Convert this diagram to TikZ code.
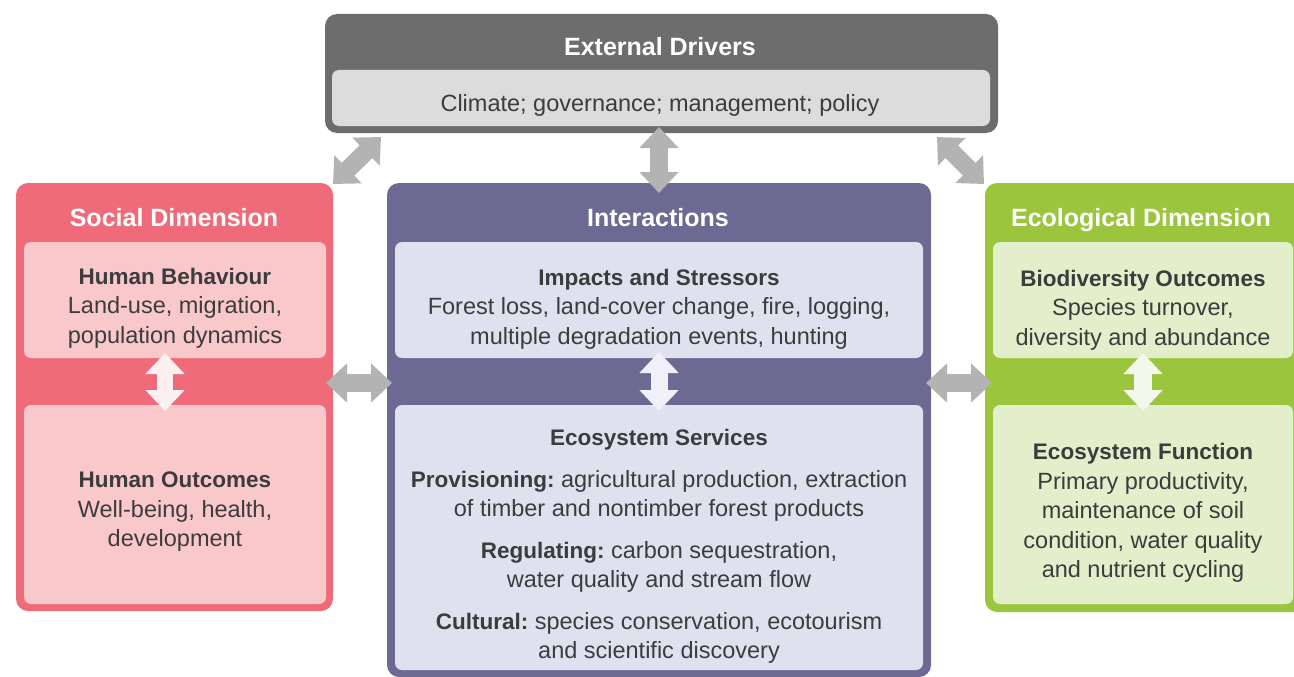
\documentclass[tikz,border=0pt]{standalone}
\usepackage{fontspec}
\setmainfont{Liberation Sans}
\usetikzlibrary{arrows.meta}
\frenchspacing
\definecolor{drvdark}{HTML}{6D6D6D}
\definecolor{drvlight}{HTML}{DCDCDC}
\definecolor{socdark}{HTML}{EF6B7A}
\definecolor{soclight}{HTML}{F9C8CB}
\definecolor{intdark}{HTML}{6C6A93}
\definecolor{intlight}{HTML}{DFE1EF}
\definecolor{ecodark}{HTML}{9BC53D}
\definecolor{ecolight}{HTML}{E3EECB}
\definecolor{arrgray}{HTML}{B3B3B3}
\definecolor{txt}{HTML}{3C3C3C}
\definecolor{socarr}{HTML}{FDF0F0}
\definecolor{intarr}{HTML}{F1F0F8}
\definecolor{ecoarr}{HTML}{F4F8EC}
\newcommand{\hb}[1]{{\fontsize{22.5}{29.5}\selectfont\bfseries #1}}
\tikzset{
  outerbox/.style={rounded corners=12pt},
  innerbox/.style={rounded corners=7pt},
  titletext/.style={text=white, font=\fontsize{25}{30}\selectfont\bfseries, inner sep=0pt, anchor=base},
  bodytext/.style={text=txt, font=\fontsize{23.5}{29.5}\selectfont\frenchspacing, align=center, inner sep=0pt},
  dblarrow/.style={line width=18pt, draw=#1,
    {Triangle[length=21pt,width=38pt]}-{Triangle[length=21pt,width=38pt]}},
}
\begin{document}
\begin{tikzpicture}[x=1pt,y=-1pt]
\useasboundingbox (0,0) rectangle (1294,677);
% External drivers
\fill[drvdark,outerbox] (325,14) rectangle (998,133);
\fill[drvlight,innerbox] (332,70) rectangle (990,126);
\node[titletext] (drvtitle) at (660,56) {External Drivers};
\node[bodytext] (drvtext) at (660,105) {Climate; governance; management; policy};
% Social
\fill[socdark,outerbox] (16,183) rectangle (333,611);
\fill[soclight,innerbox] (24,242) rectangle (326,358);
\fill[soclight,innerbox] (24,405) rectangle (326,604);
\node[titletext] (soctitle) at (174,226) {Social Dimension};
\node[bodytext] (soc1) at (175,308) {\hb{Human Behaviour}\\Land-use, migration,\\population dynamics};
\node[bodytext] (soc2) at (175,512) {\hb{Human Outcomes}\\Well-being, health,\\development};
% Interactions
\fill[intdark,outerbox] (387,183) rectangle (931,677);
\fill[intlight,innerbox] (395,242) rectangle (923,358);
\fill[intlight,innerbox] (395,405) rectangle (923,670);
\node[titletext] (inttitle) at (658,226) {Interactions};
\node[bodytext] (int1) at (659,309) {\hb{Impacts and Stressors}\\Forest loss, land-cover change, fire, logging,\\multiple degradation events, hunting};
\node[bodytext] (int2) at (659,546.5) {\hb{Ecosystem Services}\\[12pt]
\hb{Provisioning:} agricultural production, extraction\\of timber and nontimber forest products\\[12pt]
\hb{Regulating:} carbon sequestration,\\water quality and stream flow\\[12pt]
\hb{Cultural:} species conservation, ecotourism\\and scientific discovery};
% Ecological
\fill[ecodark,outerbox] (985,183) rectangle (1306,612);
\fill[ecolight,innerbox] (993,242) rectangle (1293,358);
\fill[ecolight,innerbox] (993,405) rectangle (1293,604);
\node[titletext] (ecotitle) at (1141,226) {Ecological Dimension};
\node[bodytext] (eco1) at (1143,310) {\hb{Biodiversity Outcomes}\\Species turnover,\\diversity and abundance};
\node[bodytext] (eco2) at (1143,513) {\hb{Ecosystem Function}\\Primary productivity,\\maintenance of soil\\condition, water quality\\and nutrient cycling};
% arrow end points
\coordinate (dl1) at (333,184); \coordinate (dl2) at (381,137);
\coordinate (dm1) at (659,127); \coordinate (dm2) at (659,193);
\coordinate (dr1) at (937,137); \coordinate (dr2) at (984,184);
\coordinate (hl1) at (326,383); \coordinate (hl2) at (392,383);
\coordinate (hr1) at (926,383); \coordinate (hr2) at (992,383);
\coordinate (vs1) at (165,353); \coordinate (vs2) at (165,411);
\coordinate (vi1) at (659,352); \coordinate (vi2) at (659,411);
\coordinate (ve1) at (1143,353); \coordinate (ve2) at (1143,411);
% gray arrows
\draw[dblarrow=arrgray] (dl1) -- (dl2);
\draw[dblarrow=arrgray] (dm1) -- (dm2);
\draw[dblarrow=arrgray] (dr1) -- (dr2);
\draw[dblarrow=arrgray] (hl1) -- (hl2);
\draw[dblarrow=arrgray] (hr1) -- (hr2);
% inner arrows
\draw[dblarrow=socarr, line width=16pt] (vs1) -- (vs2);
\draw[dblarrow=intarr, line width=17pt] (vi1) -- (vi2);
\draw[dblarrow=ecoarr, line width=18pt] (ve1) -- (ve2);
\end{tikzpicture}
\end{document}
